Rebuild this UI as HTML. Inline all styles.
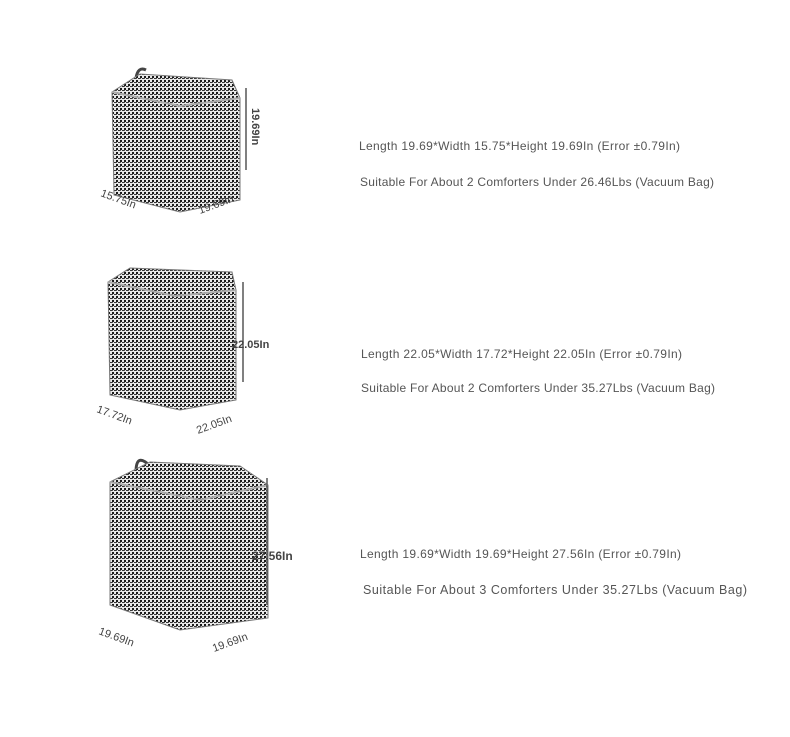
<!DOCTYPE html><html><head><style>
body{margin:0;background:#fff;width:790px;height:737px;overflow:hidden;font-family:"Liberation Sans",sans-serif}
svg{position:absolute;left:0;top:0}
</style></head><body>
<svg width="790" height="737" xmlns="http://www.w3.org/2000/svg">
<defs>
<pattern id="h" width="4" height="4" patternUnits="userSpaceOnUse">
<rect width="4" height="4" fill="#e8e8e8"/><rect width="2" height="2" fill="#1a1a1a"/><rect x="2" y="2" width="2" height="1" fill="#333"/><rect x="0" y="2" width="1" height="1" fill="#555"/>
</pattern>
</defs>
<g font-family="Liberation Sans, sans-serif" fill="#444">
<!-- box1 -->
<path d="M136,78 q2,-12 10,-8" stroke="#444" stroke-width="3" fill="none"/>
<path d="M112,92 L140,74 L232,80 L240,98 L240,200 L180,212 L114,195 Z" fill="url(#h)" stroke="#777"/>
<path d="M112,92 L180,106 L240,98" stroke="#aaa" fill="none" stroke-width="2"/>
<line x1="246" y1="88" x2="246" y2="170" stroke="#555" stroke-width="1.5"/>
<text transform="translate(252,108) rotate(90)" font-size="11" font-weight="bold">19.69In</text>
<text transform="translate(100,196) rotate(20)" font-size="11">15.75In</text>
<text transform="translate(200,214) rotate(-20)" font-size="11">19.69In</text>
<!-- box2 -->
<path d="M132,282 q2,-14 10,-10" stroke="#444" stroke-width="3" fill="none"/>
<path d="M108,282 L130,268 L232,272 L236,290 L236,400 L180,410 L110,395 Z" fill="url(#h)" stroke="#777"/>
<path d="M108,282 L175,296 L236,290" stroke="#aaa" fill="none" stroke-width="2"/>
<line x1="243" y1="282" x2="243" y2="382" stroke="#555" stroke-width="1.5"/>
<text x="232" y="348" font-size="11" font-weight="bold">22.05In</text>
<text transform="translate(96,412) rotate(20)" font-size="11">17.72In</text>
<text transform="translate(198,434) rotate(-20)" font-size="11">22.05In</text>
<!-- box3 -->
<path d="M136,472 q0,-20 14,-6" stroke="#444" stroke-width="3" fill="none"/>
<path d="M110,482 L150,462 L240,466 L268,485 L268,618 L180,630 L110,605 Z" fill="url(#h)" stroke="#777"/>
<path d="M110,482 L200,500 L268,485" stroke="#aaa" fill="none" stroke-width="2"/>
<line x1="267" y1="478" x2="267" y2="605" stroke="#555" stroke-width="1.5"/>
<text x="252" y="560" font-size="12" font-weight="bold">27.56In</text>
<text transform="translate(98,634) rotate(20)" font-size="11">19.69In</text>
<text transform="translate(214,652) rotate(-20)" font-size="11">19.69In</text>
</g>
<g font-family="Liberation Sans, sans-serif" font-size="12" fill="#555">
<text x="359" y="150" textLength="321">Length 19.69*Width 15.75*Height 19.69In (Error ±0.79In)</text>
<text x="360" y="186" textLength="354">Suitable For About 2 Comforters Under 26.46Lbs (Vacuum Bag)</text>
<text x="361" y="358" textLength="321">Length 22.05*Width 17.72*Height 22.05In (Error ±0.79In)</text>
<text x="361" y="392" textLength="354">Suitable For About 2 Comforters Under 35.27Lbs (Vacuum Bag)</text>
<text x="360" y="558" textLength="321">Length 19.69*Width 19.69*Height 27.56In (Error ±0.79In)</text>
<text x="363" y="594" font-size="12.5" textLength="384">Suitable For About 3 Comforters Under 35.27Lbs (Vacuum Bag)</text>
</g>
</svg>
</body></html>
